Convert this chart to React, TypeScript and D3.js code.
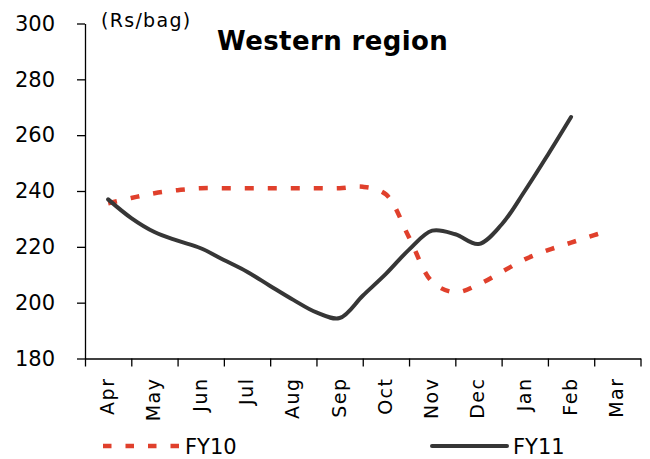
import React, { useEffect, useRef } from "react";
import * as d3 from "d3";

// Month categories for the fiscal year (April to March)
const months = ["Apr", "May", "Jun", "Jul", "Aug", "Sep", "Oct", "Nov", "Dec", "Jan", "Feb", "Mar"];

// Cement prices (Rs/bag), sampled twice a month starting mid-April
const fy10 = [
  235.6, 237.5, 239.2, 240.3, 241, 241, 241, 241, 241, 241, 241, 241.5,
  238.8, 223.4, 207.5, 203.7, 206.5, 211, 215.5, 218.8, 221.5, 224.2, 225.2,
];
const fy11 = [
  237, 230.3, 225.3, 222.2, 219.5, 215.3, 211.1, 206, 201, 196.5, 194.5,
  202.5, 210.3, 219, 225.8, 224.5, 221, 228, 240, 253, 266.5,
];
// Position of each FY10 sample, in half-month steps (last reading is partial)
const fy10Steps = [...fy10.slice(0, -1).map((_, i) => i), 21.4];

const yTicks = [180, 200, 220, 240, 260, 280, 300];

const W = 650;
const H = 459;
const FONT = "'DejaVu Sans', Lato, sans-serif";
const RED = "#e0402c";
const DARK = "#363636";

export default function App() {
  const ref = useRef<SVGSVGElement | null>(null);

  useEffect(() => {
    const svg = d3.select(ref.current);
    svg.selectAll("*").remove();

    const x = d3.scaleLinear().domain([0, months.length]).range([85, 640.5]);
    const y = d3.scaleLinear().domain([180, 300]).range([358.5, 23.5]);
    const step = (k: number) => x(0.5 + k / 2);

    // Y axis
    const yAxis = svg
      .append("g")
      .attr("transform", `translate(${x(0)},0)`)
      .call(d3.axisLeft(y).tickValues(yTicks).tickSize(8).tickSizeOuter(0).tickPadding(22));
    yAxis.select(".domain").attr("stroke", "#000").attr("stroke-width", 1.3);
    yAxis.selectAll(".tick line").attr("stroke", "#000").attr("stroke-width", 1.3);
    yAxis
      .selectAll(".tick text")
      .attr("font-family", FONT)
      .attr("font-size", 21)
      .attr("fill", "#000");

    // X axis with boundary ticks; month labels drawn rotated
    const xAxis = svg
      .append("g")
      .attr("transform", `translate(0,${y(180)})`)
      .call(
        d3
          .axisBottom(x)
          .tickValues(d3.range(0, months.length + 1))
          .tickSize(8)
          .tickSizeOuter(0)
          .tickFormat(() => "")
      );
    xAxis.select(".domain").attr("stroke", "#000").attr("stroke-width", 1.3);
    xAxis.selectAll(".tick line").attr("stroke", "#000").attr("stroke-width", 1.3);

    svg
      .append("g")
      .selectAll("text")
      .data(months)
      .join("text")
      .attr("transform", (_, i) => `translate(${x(i + 0.5) + 6},${y(180) + 19}) rotate(-90)`)
      .attr("text-anchor", "end")
      .attr("font-family", FONT)
      .attr("font-size", 19)
      .attr("letter-spacing", 1.5)
      .attr("fill", "#000")
      .text((d) => d);

    const line = d3.line<number>().curve(d3.curveCatmullRom.alpha(0.5));

    // FY10 dashed series
    svg
      .append("path")
      .attr("d", line.x((_, i) => step(fy10Steps[i])).y((d) => y(d))(fy10) as string)
      .attr("fill", "none")
      .attr("stroke", RED)
      .attr("stroke-width", 4.5)
      .attr("stroke-dasharray", "9,14");

    // FY11 solid series
    svg
      .append("path")
      .attr("d", line.x((_, i) => step(i)).y((d) => y(d))(fy11) as string)
      .attr("fill", "none")
      .attr("stroke", DARK)
      .attr("stroke-width", 4)
      .attr("stroke-linecap", "round")
      .attr("stroke-linejoin", "round");

    // Unit label and title
    svg
      .append("text")
      .attr("x", 101)
      .attr("y", 27)
      .attr("font-family", FONT)
      .attr("font-size", 19)
      .attr("letter-spacing", 1.3)
      .attr("fill", "#000")
      .text("(Rs/bag)");
    svg
      .append("text")
      .attr("x", 217)
      .attr("y", 50)
      .attr("font-family", FONT)
      .attr("font-size", 26)
      .attr("letter-spacing", 0.4)
      .attr("font-weight", "bold")
      .attr("fill", "#000")
      .text("Western region");

    // Legend
    const legend = svg.append("g");
    legend
      .append("line")
      .attr("x1", 103)
      .attr("x2", 180)
      .attr("y1", 446)
      .attr("y2", 446)
      .attr("stroke", RED)
      .attr("stroke-width", 4.5)
      .attr("stroke-dasharray", "8.5,14");
    legend
      .append("text")
      .attr("x", 185)
      .attr("y", 453.5)
      .attr("font-family", FONT)
      .attr("font-size", 21)
      .attr("fill", "#000")
      .text("FY10");
    legend
      .append("line")
      .attr("x1", 432)
      .attr("x2", 507)
      .attr("y1", 446)
      .attr("y2", 446)
      .attr("stroke", DARK)
      .attr("stroke-width", 4)
      .attr("stroke-linecap", "round");
    legend
      .append("text")
      .attr("x", 513)
      .attr("y", 454)
      .attr("font-family", FONT)
      .attr("font-size", 21)
      .attr("fill", "#000")
      .text("FY11");
  }, []);

  return (
    <svg
      ref={ref}
      width={W}
      height={H}
      style={{ position: "absolute", left: 0, top: 0, background: "#fff" }}
    />
  );
}
